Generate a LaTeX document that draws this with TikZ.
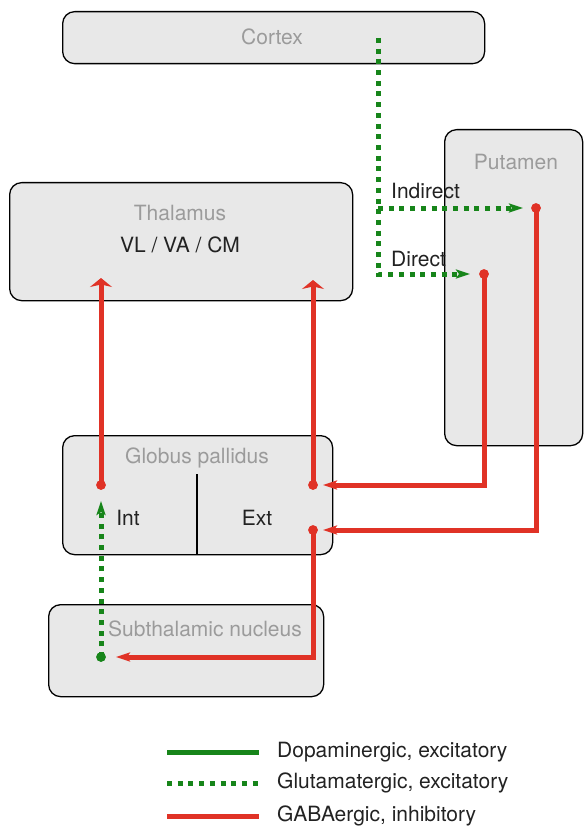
\documentclass[tikz,border=0pt]{standalone}
\usepackage{fontspec}
\setmainfont{TeX Gyre Heros}
\usetikzlibrary{arrows.meta}
\definecolor{boxfill}{HTML}{E8E8E8}
\definecolor{labelgray}{HTML}{9B9B9B}
\definecolor{ink}{HTML}{222222}
\definecolor{gaba}{HTML}{E03226}
\definecolor{glut}{HTML}{17851A}
\begin{document}
\begin{tikzpicture}[x=1pt,y=-1pt,
  region/.style={draw=black, line width=1.3pt, fill=boxfill, rounded corners=12pt,
                 inner sep=0pt, anchor=north west},
  title/.style={text=labelgray, font=\fontsize{21}{25}\selectfont, inner sep=0pt},
  sub/.style={text=ink, font=\fontsize{21}{25}\selectfont, inner sep=0pt},
  gabaline/.style={draw=gaba, line width=5pt},
  glutline/.style={draw=glut, line width=5pt, dash pattern=on 5pt off 5.7pt},
  dopline/.style={draw=glut, line width=5pt},
  uptip/.style={-{Stealth[length=9pt,width=22pt,inset=2.5pt]}},
  sidetip/.style={-{Stealth[length=14pt,width=9pt,inset=3pt]}},
  thintip/.style={-{Stealth[length=14pt,width=9pt,inset=3pt]}},
  port/.style={circle, inner sep=0pt, minimum size=9.5pt, fill=#1}
]
\useasboundingbox (0,0) rectangle (583,829);

% brain regions
\node[region, minimum width=422pt, minimum height=52pt] (cortex) at (62,11) {};
\node[region, minimum width=138pt, minimum height=316pt] (putamen) at (444,129) {};
\node[region, minimum width=343pt, minimum height=118pt] (thalamus) at (9,182) {};
\node[region, minimum width=270pt, minimum height=119pt] (gp) at (62,435) {};
\node[region, minimum width=275pt, minimum height=92pt] (stn) at (48,604) {};

\node[title] (cortexlabel) at (272,37) {Cortex};
\node[title] (putamenlabel) at (516,162) {Putamen};
\node[title] (thalamuslabel) at (180,213) {Thalamus};
\node[sub] (thalamusnuclei) at (180,245) {VL / VA / CM};
\node[title] (gplabel) at (197,458) {Globus pallidus};
\node[sub] (intlabel) at (128,518) {Int};
\node[sub] (extlabel) at (257,518) {Ext};
\node[title] (stnlabel) at (205,629) {Subthalamic nucleus};

% internal/external divider of the pallidum
\coordinate (divtop) at (197,474);
\draw[line width=1.1pt, black] (divtop) -- (divtop |- gp.south);

% connection ports
\coordinate (ctxout) at (378,38);
\coordinate (branch) at (378,208);
\coordinate (indin) at (523,208);
\coordinate (dirin) at (470,274);
\coordinate (thalL) at (101,278);
\coordinate (thalR) at (313,280);
\coordinate (extinA) at (323,485);
\coordinate (extinB) at (323,530);
\coordinate (intin) at (101,501);
\coordinate (stnin) at (116,657);

\node[port=gaba] (indout) at (536,208) {};
\node[port=gaba] (dirout) at (484,274) {};
\node[port=gaba] (intout) at (101,485) {};
\node[port=gaba] (extoutA) at (313,485) {};
\node[port=gaba] (extoutB) at (313,530) {};
\node[port=glut] (stnout) at (101,657) {};

% glutamatergic cortical input to the striatum
\draw[glutline, sidetip] (ctxout) -- (ctxout |- dirin) -- (dirin);
\draw[glutline, sidetip] (branch) -- (indin);
\node[sub, anchor=west] (indirectlabel) at (391,191) {Indirect};
\node[sub, anchor=west] (directlabel) at (391,259) {Direct};

% GABAergic projections
\draw[gabaline, sidetip] (indout.center) -- (indout.center |- extinB) -- (extinB);
\draw[gabaline, sidetip] (dirout.center) -- (dirout.center |- extinA) -- (extinA);
\draw[gabaline, uptip] (intout.center) -- (thalL);
\draw[gabaline, uptip] (extoutA.center) -- (thalR);
\draw[gabaline, sidetip] (extoutB.center) -- (extoutB.center |- stnin) -- (stnin);

% subthalamic glutamatergic output
\draw[glutline, thintip] (stnout.center) -- (intin);

% redraw ports above the lines
\foreach \p/\c in {indout/gaba, dirout/gaba, intout/gaba, extoutA/gaba, extoutB/gaba, stnout/glut}
  \fill[\c] (\p) circle (4.75pt);

% legend
\coordinate (legA) at (167,752);
\coordinate (legB) at (167,783);
\coordinate (legC) at (167,816);
\draw[dopline] (legA) -- ++(92,0) coordinate (legAend);
\draw[glutline] (legB) -- ++(92,0) coordinate (legBend);
\draw[gabaline] (legC) -- ++(92,0) coordinate (legCend);
\node[sub, anchor=west] (legtextA) at (277,752) {Dopaminergic, excitatory};
\node[sub, anchor=west] (legtextB) at (277,783) {Glutamatergic, excitatory};
\node[sub, anchor=west] (legtextC) at (277,816) {GABAergic, inhibitory};
\end{tikzpicture}
\end{document}
